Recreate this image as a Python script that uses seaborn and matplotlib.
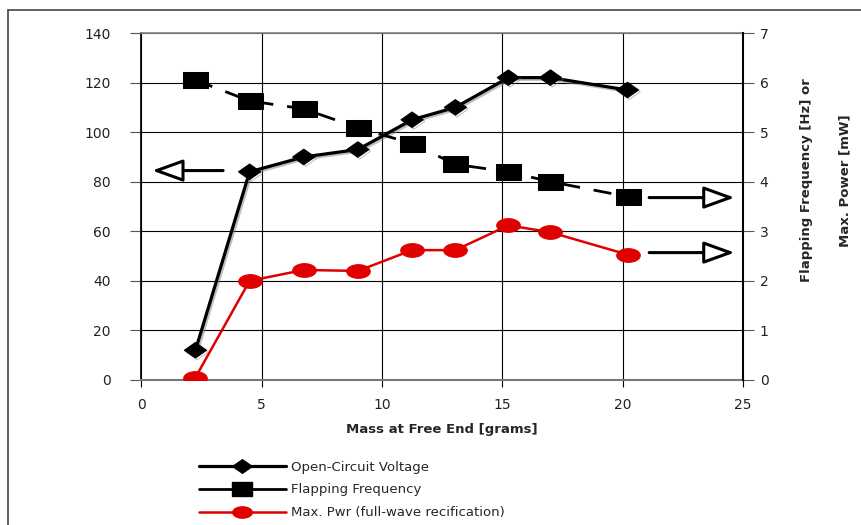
import numpy as np
import matplotlib
matplotlib.use("Agg")
import matplotlib.pyplot as plt
import matplotlib.patheffects as pe
from matplotlib.path import Path
from matplotlib.lines import Line2D
import seaborn as sns

# ----------------------------
# DANE
# ----------------------------
mass_g = [2.25, 4.5, 6.75, 9.0, 11.25, 13.05, 15.25, 17.0, 20.2]
voltage = [12, 84, 90, 93, 105, 110, 122, 122, 117]          # lewa os
frequency = [6.05, 5.63, 5.47, 5.09, 4.77, 4.35, 4.2, 4.0, 3.7]  # prawa os [Hz]
power = [0.05, 2.0, 2.22, 2.2, 2.62, 2.62, 3.12, 2.98, 2.53]      # prawa os [mW]

labels = ["Open-Circuit Voltage", "Flapping Frequency",
          "Max. Pwr (full-wave recification)"]
left_ticks = [0, 20, 40, 60, 80, 100, 120, 140]
right_ticks = [0, 1, 2, 3, 4, 5, 6, 7]
x_ticks = [0, 5, 10, 15, 20, 25]


def shape_marker(kind, aspect):
    # marker o proporcjach jak w Excelu (szerszy niz wyzszy)
    if kind == "diamond":
        verts = [(-1, 0), (0, aspect), (1, 0), (0, -aspect), (-1, 0)]
    elif kind == "square":
        verts = [(-1, -aspect), (1, -aspect), (1, aspect), (-1, aspect), (-1, -aspect)]
    else:
        t = np.linspace(0, 2 * np.pi, 60)
        verts = list(zip(np.cos(t), aspect * np.sin(t)))
    return Path(verts, closed=True)


diamond = shape_marker("diamond", 0.7)
square = shape_marker("square", 0.64)
ellipse = shape_marker("ellipse", 0.58)

sns.set_theme(style="white")
plt.rcParams["font.family"] = ["DejaVu Sans"]

fig = plt.figure(figsize=(8.62, 5.25), dpi=100)
ax = fig.add_axes([0.1639, 0.2762, 0.6981, 0.6609])
ax2 = ax.twinx()

shadow = [pe.SimpleLineShadow(offset=(1.2, -1.2), shadow_color="gray", alpha=0.5), pe.Normal()]

sns.lineplot(x=mass_g, y=voltage, ax=ax, color="black", lw=2.3,
             marker=diamond, markersize=16, markeredgecolor="black",
             path_effects=shadow, zorder=3)

sns.lineplot(x=mass_g, y=frequency, ax=ax2, color="black", lw=2.0,
             dashes=False, linestyle=(0, (6.5, 5)), marker=square, markersize=18,
             markeredgecolor="black", zorder=3)
sns.lineplot(x=mass_g, y=power, ax=ax2, color="#e00000", lw=1.8,
             marker=ellipse, markersize=17, markeredgecolor="#e00000", zorder=3)

ax.set_xlim(0, 25)
ax.set_ylim(0, 140)
ax2.set_ylim(0, 7)
ax.set_xticks(x_ticks)
ax.set_yticks(left_ticks)
ax2.set_yticks(right_ticks)

ax.grid(True, color="black", lw=0.8)
ax2.grid(False)
ax.set_axisbelow(True)

for a in (ax, ax2):
    for s in a.spines.values():
        s.set_visible(False)
ax.spines["left"].set_visible(True)
ax.spines["left"].set_color("black")
ax.spines["bottom"].set_visible(True)
ax.spines["bottom"].set_color("#777777")
ax.spines["bottom"].set_linewidth(1.5)
ax2.spines["right"].set_visible(True)
ax2.spines["right"].set_color("black")
ax2.spines["right"].set_linewidth(1.5)
ax.spines["top"].set_visible(True)
ax.spines["top"].set_color("#888888")

ax.tick_params(axis="y", left=True, length=8, width=0.8, color="#555555",
               labelsize=10, labelcolor="#222222", pad=14)
ax.tick_params(axis="x", bottom=True, length=5, width=0.8, color="black",
               labelsize=10, labelcolor="#222222", pad=8)
ax2.tick_params(axis="y", right=True, length=8, width=0.8, color="#555555",
                labelsize=10, labelcolor="#222222", pad=4)

ax.set_xlabel("Mass at Free End [grams]", fontsize=9.5, fontweight="bold", labelpad=8)
ax.set_ylabel("")
ax2.set_ylabel("")

# strzalki wskazujace osie
arrow = dict(arrowstyle="-|>,head_length=1.0,head_width=0.36", fc="white",
             ec="black", lw=2.2, shrinkA=0, shrinkB=0, mutation_scale=19)
ax.annotate("", xy=(0.45, 84.5), xytext=(3.4, 84.5), arrowprops=arrow)
ax2.annotate("", xy=(24.65, 3.68), xytext=(21.1, 3.68), arrowprops=arrow)
ax2.annotate("", xy=(24.65, 2.57), xytext=(21.1, 2.57), arrowprops=arrow)

# opis prawej osi w dwoch liniach
fig.text(807 / 862, 1 - 180 / 525, "Flapping Frequency [Hz] or", rotation=90,
         ha="center", va="center", fontsize=9.5, fontweight="bold")
fig.text(845 / 862, 1 - 181 / 525, "Max. Power [mW]", rotation=90,
         ha="center", va="center", fontsize=9.5, fontweight="bold")

# legenda
handles = [
    Line2D([], [], color="black", lw=2.3, marker=diamond, markersize=14),
    Line2D([], [], color="black", lw=2.0, marker=square, markersize=15),
    Line2D([], [], color="#e00000", lw=1.8, marker=ellipse, markersize=14,
           markeredgecolor="#e00000"),
]
fig.legend(handles, labels, loc="upper left", bbox_to_anchor=(192 / 862, 1 - 454 / 525),
           frameon=False, fontsize=9.5, handlelength=6.6, handletextpad=0.4,
           labelspacing=0.75, borderpad=0)

# ramka obszaru wykresu
fig.add_artist(Line2D([8 / 862, 1], [1 - 9.5 / 525, 1 - 9.5 / 525], color="#444444", lw=1.2))
fig.add_artist(Line2D([8 / 862, 8 / 862], [0, 1 - 9.5 / 525], color="#444444", lw=1.2))

fig.savefig("out.png", dpi=100)
